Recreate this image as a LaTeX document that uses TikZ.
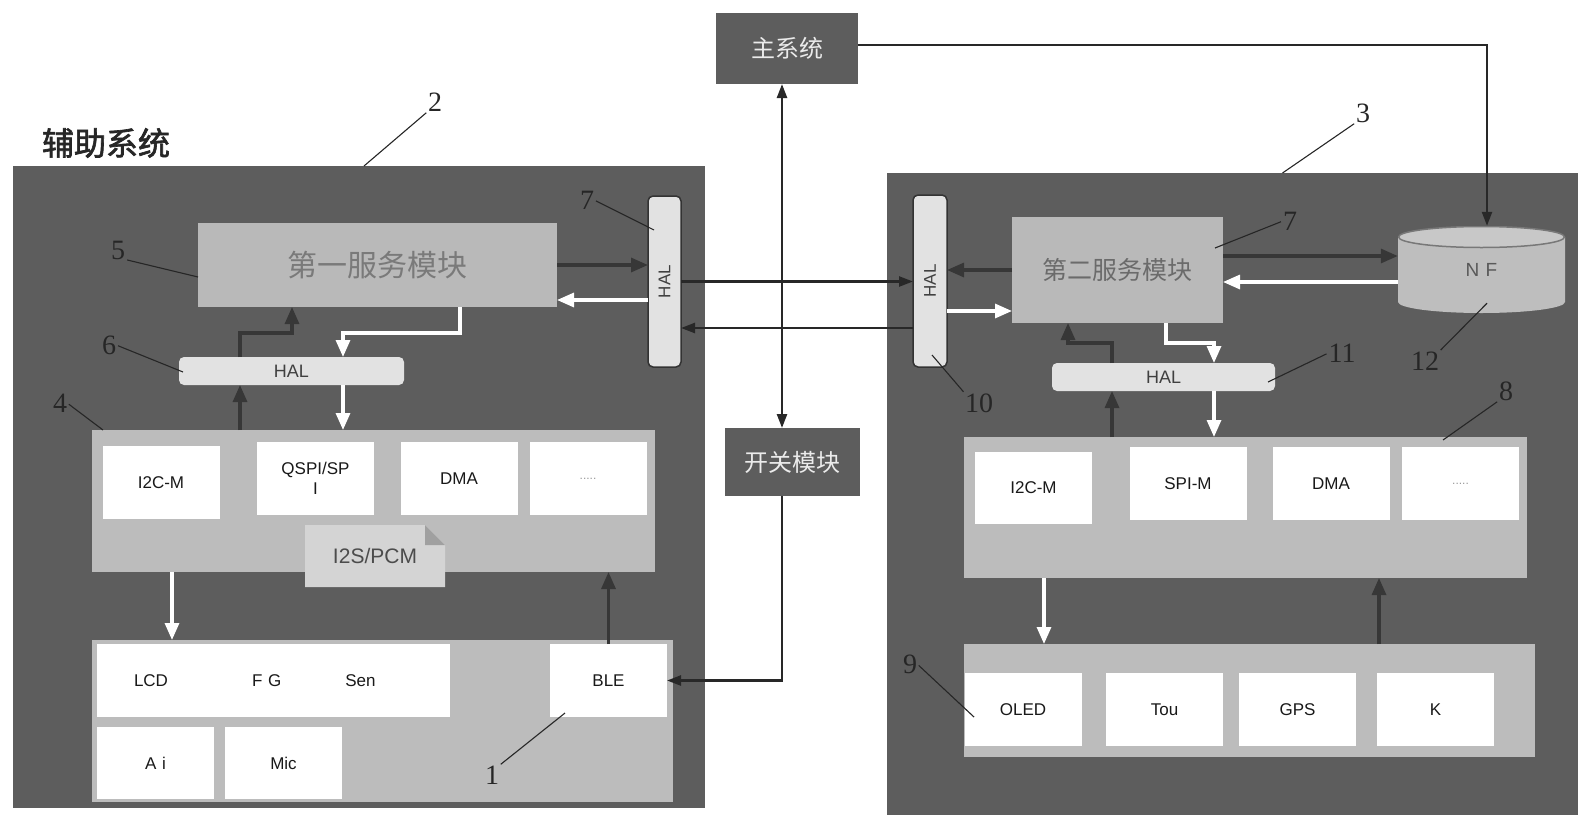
\documentclass[tikz,border=0pt]{standalone}
\usepackage{fontspec}
\setmainfont{Liberation Sans}
\newfontfamily\cjk[AutoFakeBold=2]{Noto Sans CJK SC}
\newfontfamily\numfont{Liberation Serif}
\usetikzlibrary{arrows.meta}

\definecolor{boardgray}{RGB}{93,93,93}
\definecolor{panelgray}{RGB}{188,188,188}
\definecolor{svcgray}{RGB}{185,185,185}
\definecolor{halgray}{RGB}{226,226,226}
\definecolor{arrowgray}{RGB}{55,55,55}
\definecolor{linkgray}{RGB}{40,40,40}
\definecolor{notegray}{RGB}{212,212,212}
\definecolor{foldgray}{RGB}{160,160,160}
\definecolor{nfbody}{RGB}{190,190,190}
\definecolor{nftop}{RGB}{200,200,200}
\definecolor{nfrim}{RGB}{120,120,120}

\tikzset{
  darr/.style={draw=arrowgray, line width=3.2pt, -{Triangle[length=17pt,width=14pt]}},
  warr/.style={draw=white, line width=3.2pt, -{Triangle[length=17pt,width=14pt]}},
  link/.style={draw=linkgray, line width=2.4pt},
  lead/.style={draw=black!85, line width=1.1pt, shorten <=2pt},
  num/.style={font=\numfont\fontsize{28}{28}\selectfont, inner sep=0pt, text=black!85}
}

\begin{document}
\begin{tikzpicture}[x=1pt, y=-1pt, >={Triangle[length=14pt,width=10pt]}]

      \useasboundingbox (0,0) rectangle (1592,830);

      % boards and the two outside blocks
      \begin{scope}[every node/.style={fill=boardgray, inner sep=0, outer sep=0}]
        \node (2) at (359,487) [minimum width=692, minimum height=642] {};
        \node (3) at (1232.5,494) [minimum width=691, minimum height=642] {};
        \node (main) at (787,48.5) [minimum width=142, minimum height=71, text=white!92!black,
          font=\cjk\fontsize{24}{24}\selectfont] {主系统};
        \node (switch) at (792.5,462) [minimum width=135, minimum height=68, text=white!92!black,
          font=\cjk\fontsize{24}{24}\selectfont] {开关模块};
      \end{scope}

      \node (aux) at (106,143) [font=\cjk\bfseries\fontsize{32}{32}\selectfont, text=black!85] {辅助系统};

      % grey panels and service modules
      \begin{scope}[every node/.style={fill=panelgray, inner sep=0, outer sep=0}]
        \node (4) at (373.5,501) [minimum width=563, minimum height=142] {};
        \node (dev) at (382.5,721) [minimum width=581, minimum height=162] {};
        \node (8) at (1245.5,507.5) [minimum width=563, minimum height=141] {};
        \node (9) at (1249.5,700.5) [minimum width=571, minimum height=113] {};
        \node (5) at (377.5,265) [minimum width=359, minimum height=84, fill=svcgray, text=black!52,
          font=\cjk\fontsize{30}{30}\selectfont] {第一服务模块};
        \node (7b) at (1117.5,270) [minimum width=211, minimum height=106, fill=svcgray, text=black!58,
          font=\cjk\fontsize{25}{25}\selectfont] {第二服务模块};
      \end{scope}

      % white blocks
      \begin{scope}[every node/.style={fill=white, inner sep=0, outer sep=0, minimum width=117,
          minimum height=73, font=\fontsize{17}{20}\selectfont, text=black!90}]
        \node (i2cA) at (161,482.5) {I2C-M};
        \node (qspi) at (315.5,478.5) [align=center] {QSPI/SP\\I};
        \node (dmaA) at (459,478.5) {DMA};
        \node (moreA) at (588,478.5) [text=black!40, font=\fontsize{12}{12}\selectfont] {.....};
        \node (lcd) at (273.5,680.5) [minimum width=353]
          {\makebox[353pt][l]{\hspace{37pt}LCD\hspace{84pt}F\,\,G\hspace{64pt}Sen}};
        \node (ai) at (155.5,763) [minimum height=72] {A\,\,i};
        \node (mic) at (283.5,763) [minimum height=72] {Mic};
        \node (1) at (608.5,680.5) {BLE};

        \node (i2cB) at (1033.5,488) [minimum height=72] {I2C-M};
        \node (spi) at (1188,483.5) {SPI-M};
        \node (dmaB) at (1331,483.5) {DMA};
        \node (moreB) at (1460.5,483.5) [text=black!40, font=\fontsize{12}{12}\selectfont] {.....};
        \node (oled) at (1023,709.5) {OLED};
        \node (tou) at (1164.5,709.5) {Tou};
        \node (gps) at (1297.5,709.5) {GPS};
        \node (k) at (1435.5,709.5) {K};
      \end{scope}

      % HAL layers
      \begin{scope}[every node/.style={fill=halgray, rounded corners=5pt, inner sep=0, outer sep=0,
          font=\fontsize{18}{18}\selectfont, text=black!75}]
        \node (7) at (664.5,281.5) [draw=black!80, line width=1.5pt, minimum width=33,
          minimum height=171, font=\fontsize{17}{17}\selectfont] {\rotatebox{90}{HAL}};
        \node (10) at (930,281) [draw=black!80, line width=1.5pt, minimum width=34,
          minimum height=172, font=\fontsize{17}{17}\selectfont] {\rotatebox{90}{HAL}};
        \node (6) at (291.5,371) [minimum width=225, minimum height=28] {HAL};
        \node (11) at (1163.5,377) [minimum width=223, minimum height=28] {HAL};
      \end{scope}

      \node (i2s) at (375,556) [minimum width=140, minimum height=62, inner sep=0, fill=panelgray,
        font=\fontsize{21}{21}\selectfont, text=black!70, path picture={
          \fill[notegray] (path picture bounding box.south west) -- (path picture bounding box.north west)
            -- ([xshift=-20pt]path picture bounding box.north east)
            -- ([yshift=-20pt]path picture bounding box.north east)
            -- (path picture bounding box.south east) -- cycle;
          \fill[foldgray] ([xshift=-20pt]path picture bounding box.north east)
            -- ([xshift=-20pt,yshift=-20pt]path picture bounding box.north east)
            -- ([yshift=-20pt]path picture bounding box.north east) -- cycle;
        }] {I2S/PCM};

      \node (12) at (1481.5,269.5) [minimum width=167, minimum height=87, inner sep=0, fill=boardgray,
        font=\fontsize{19}{19}\selectfont, text=black!65, path picture={
          \fill[nfbody] ([yshift=-11pt]path picture bounding box.north west)
            -- ([yshift=11pt]path picture bounding box.south west)
            arc[start angle=180, end angle=360, x radius=83.5pt, y radius=11pt]
            -- ([yshift=-11pt]path picture bounding box.north east) -- cycle;
          \filldraw[fill=nftop, draw=nfrim, line width=1.5pt]
            ([yshift=-11pt]path picture bounding box.north) ellipse[x radius=83pt, y radius=10.5pt];
        }] {N\,\,F};

      % bend points and rows
      \coordinate (c172) at (172,0);
      \coordinate (c240) at (240,0);
      \coordinate (c460) at (460,0);
      \coordinate (c782) at (782,0);
      \coordinate (c1044) at (1044,0);
      \coordinate (c1112) at (1112,0);
      \coordinate (c1166) at (1166,0);
      \coordinate (c1379) at (1379,0);
      \coordinate (c1487) at (1487,0);
      \coordinate (r45) at (0,45);
      \coordinate (r256) at (0,256);
      \coordinate (r282) at (0,282);
      \coordinate (r300) at (0,300);
      \coordinate (r311) at (0,311);
      \coordinate (r328) at (0,328);
      \coordinate (k1) at (292,333);
      \coordinate (k2) at (343,333);
      \coordinate (k4) at (1068,343);
      \coordinate (k5) at (1214,343);

      % left board
      \draw[darr] (5.east) -- (7.west |- 5.east);
      \draw[warr] (7.west |- r300) -- (5.east |- r300);
      \draw[darr] (4.north -| c240) -- (6.south -| c240);
      \draw[darr] (6.north -| c240) |- (k1) -- (5.south -| k1);
      \draw[warr] (5.south -| c460) |- (k2) -- (6.north -| k2);
      \draw[warr] (6.south -| k2) -- (4.north -| k2);
      \draw[warr] (4.south -| c172) -- (dev.north -| c172);
      \draw[darr] (1.north) -- (4.south -| 1.north);

      % between the boards
      \draw[link, <->] (main.south -| c782) -- (switch.north -| c782);
      \draw[link, ->] (main.east |- r45) -| (12.north -| c1487);
      \draw[link, ->] (switch.south -| c782) |- (1.east);
      \draw[link, ->] (7.east) -- (10.west |- 7.east);
      \draw[link, ->] (10.west |- r328) -- (7.east |- r328);

      % right board
      \draw[darr] (7b.west) -- (10.east |- 7b.west);
      \draw[warr] (10.east |- r311) -- (7b.west |- r311);
      \draw[darr] (7b.east |- r256) -- (12.west |- r256);
      \draw[warr] (12.west |- r282) -- (7b.east |- r282);
      \draw[darr] (8.north -| c1112) -- (11.south -| c1112);
      \draw[darr] (11.north -| c1112) |- (k4) -- (7b.south -| k4);
      \draw[warr] (7b.south -| c1166) |- (k5) -- (11.north -| k5);
      \draw[warr] (11.south -| k5) -- (8.north -| k5);
      \draw[warr] (8.south -| c1044) -- (9.north -| c1044);
      \draw[darr] (9.north -| c1379) -- (8.south -| c1379);

      % reference numbers
      \begin{scope}[every node/.style={num}]
        \node (n1)  at (492,775)  {1};
        \node (n2)  at (435,102)  {2};
        \node (n3)  at (1363,113) {3};
        \node (n4)  at (60,403)   {4};
        \node (n5)  at (118,250)  {5};
        \node (n6)  at (109,345)  {6};
        \node (n7)  at (587,200)  {7};
        \node (n7b) at (1290,221) {7};
        \node (n8)  at (1506,391) {8};
        \node (n9)  at (910,664)  {9};
        \node (n10) at (979,403)  {10};
        \node (n11) at (1342,353) {11};
        \node (n12) at (1425,361) {12};
      \end{scope}

      \draw[lead] (n1.north east) -- ([shift={(15pt,4pt)}]1.south west);
      \draw[lead] (n2.south west) -- ([xshift=5pt]2.north);
      \draw[lead] (n3.south west) -- ([xshift=50pt]3.north);
      \draw[lead] (n4.east) -- ([xshift=11pt]4.north west);
      \draw[lead] (n5.south east) -- ([yshift=-12pt]5.west);
      \draw[lead] (n6.east) -- ([shift={(4pt,-1pt)}]6.west);
      \draw[lead] (n7.east) -- ([shift={(6pt,-34pt)}]7.north west);
      \draw[lead] (n7b.west) -- ([shift={(-8pt,-31pt)}]7b.north east);
      \draw[lead] (n8.south west) -- ([shift={(-84pt,-3pt)}]8.north east);
      \draw[lead] (n9.east) -- ([shift={(10pt,-16.5pt)}]9.west);
      \draw[lead] (n10.north west) -- ([shift={(2pt,12pt)}]10.south);
      \draw[lead] (n11.west) -- ([shift={(-7pt,-5pt)}]11.east);
      \draw[lead] (n12.north east) -- ([shift={(5.5pt,10pt)}]12.south);

    \end{tikzpicture}
\end{document}
